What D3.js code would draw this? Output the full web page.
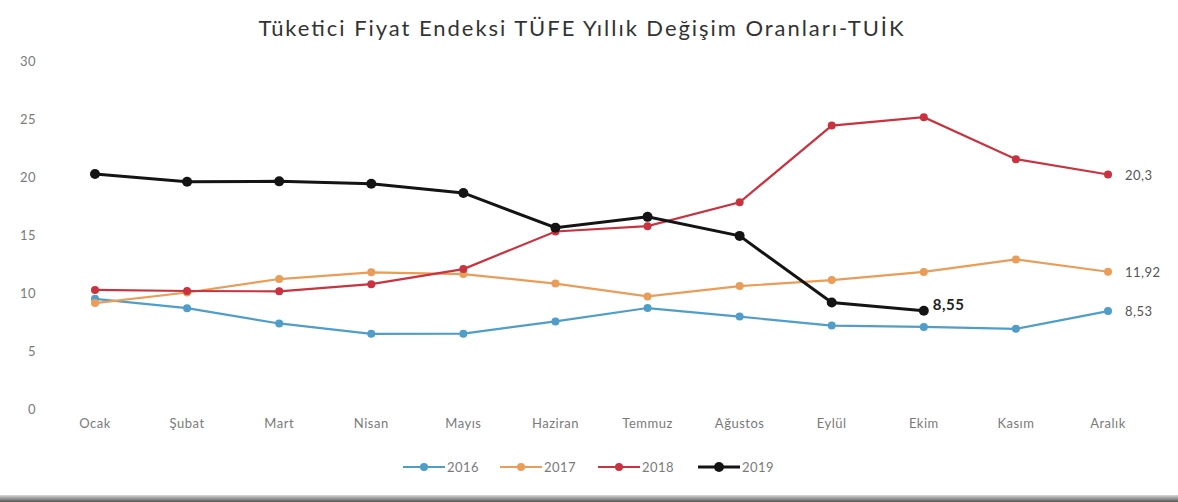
<!DOCTYPE html>
<html>
<head>
<meta charset="utf-8">
<script src="https://cdn.jsdelivr.net/npm/d3@7"></script>
<style>
  body { margin: 0; background: #fff; }
  svg { display: block; font-family: Lato, "Open Sans", sans-serif; }
</style>
</head>
<body>
<div id="chart"></div>
<script>
const months = ["Ocak", "Şubat", "Mart", "Nisan", "Mayıs", "Haziran", "Temmuz", "Ağustos", "Eylül", "Ekim", "Kasım", "Aralık"];
const yTicks = [0, 5, 10, 15, 20, 25, 30];

const y2016 = [9.58, 8.78, 7.46, 6.57, 6.58, 7.64, 8.79, 8.05, 7.28, 7.16, 7.00, 8.53];
const y2017 = [9.22, 10.13, 11.29, 11.87, 11.72, 10.90, 9.79, 10.68, 11.20, 11.90, 12.98, 11.92];
const y2018 = [10.35, 10.26, 10.23, 10.85, 12.15, 15.39, 15.85, 17.90, 24.52, 25.24, 21.62, 20.30];
const y2019 = [20.35, 19.67, 19.71, 19.50, 18.71, 15.72, 16.65, 15.01, 9.26, 8.55];

const seriesNames = ["2016", "2017", "2018", "2019"];
const seriesColors = ["#4f9ec9", "#e99d58", "#c93340", "#141414"];
const endLabels = ["8,53", "11,92", "20,3", "8,55"];

const W = 1178, H = 502;
const svg = d3.select("#chart").append("svg").attr("width", W).attr("height", H);

const x = d3.scalePoint().domain(months).range([95, 1108]);
const y = d3.scaleLinear().domain([0, 30]).range([410, 62]);

// title
svg.append("text")
  .attr("x", 581).attr("y", 36)
  .attr("text-anchor", "middle")
  .attr("font-size", 22)
  .attr("textLength", 645)
  .attr("fill", "#333")
  .text("Tüketici Fiyat Endeksi TÜFE Yıllık Değişim Oranları-TUİK");

// y axis labels (no line, no gridlines)
svg.append("g").selectAll("text")
  .data(yTicks)
  .enter().append("text")
  .attr("x", 36).attr("y", d => y(d) + 4)
  .attr("text-anchor", "end")
  .attr("font-size", 13)
  .attr("letter-spacing", 0.5)
  .attr("fill", "#7a7a7a")
  .text(d => d);

// x labels
svg.append("g").selectAll("text")
  .data(months)
  .enter().append("text")
  .attr("x", d => x(d)).attr("y", 428)
  .attr("text-anchor", "middle")
  .attr("font-size", 13)
  .attr("letter-spacing", 0.5)
  .attr("fill", "#7a7a7a")
  .text(d => d);

const allSeries = [y2016, y2017, y2018, y2019];
const line = d3.line()
  .x((d, i) => x(months[i]))
  .y(d => y(d));

allSeries.forEach((vals, s) => {
  const g = svg.append("g");
  const w = s === 3 ? 3 : 2.2;
  g.append("path")
    .attr("d", line(vals))
    .attr("fill", "none")
    .attr("stroke", seriesColors[s])
    .attr("stroke-width", w);
  g.selectAll("circle")
    .data(vals)
    .enter().append("circle")
    .attr("cx", (d, i) => x(months[i]))
    .attr("cy", d => y(d))
    .attr("r", s === 3 ? 5 : 4)
    .attr("fill", seriesColors[s]);

  const last = vals.length - 1;
  g.append("text")
    .attr("x", x(months[last]) + (s === 3 ? 9 : 17))
    .attr("y", y(vals[last]) + (s === 3 ? -1 : 5))
    .attr("font-size", s === 3 ? 15 : 13)
    .attr("letter-spacing", 0.5)
    .attr("font-weight", s === 3 ? "bold" : "normal")
    .attr("fill", s === 3 ? "#222" : "#555")
    .text(endLabels[s]);
});

// legend
const legendX = [403, 500, 598, 698];
const legend = svg.append("g");
seriesNames.forEach((name, s) => {
  const lg = legend.append("g").attr("transform", `translate(${legendX[s]},467)`);
  lg.append("line").attr("x1", 0).attr("x2", 42).attr("y1", 0).attr("y2", 0)
    .attr("stroke", seriesColors[s]).attr("stroke-width", s === 3 ? 3 : 2.2);
  lg.append("circle").attr("cx", 21).attr("cy", 0).attr("r", s === 3 ? 5 : 4)
    .attr("fill", seriesColors[s]);
  lg.append("text").attr("x", 44).attr("y", 5)
    .attr("font-size", 13).attr("letter-spacing", 0.5)
    .attr("fill", "#7a7a7a").text(name);
});

// bottom edge of the photographed screen
const grad = svg.append("defs").append("linearGradient")
  .attr("id", "edge").attr("x1", 0).attr("x2", 0).attr("y1", 0).attr("y2", 1);
grad.append("stop").attr("offset", "0%").attr("stop-color", "#d8d8d8");
grad.append("stop").attr("offset", "100%").attr("stop-color", "#555");
svg.append("rect").attr("x", 0).attr("y", 495).attr("width", W).attr("height", 7)
  .attr("fill", "url(#edge)");
</script>
</body>
</html>
